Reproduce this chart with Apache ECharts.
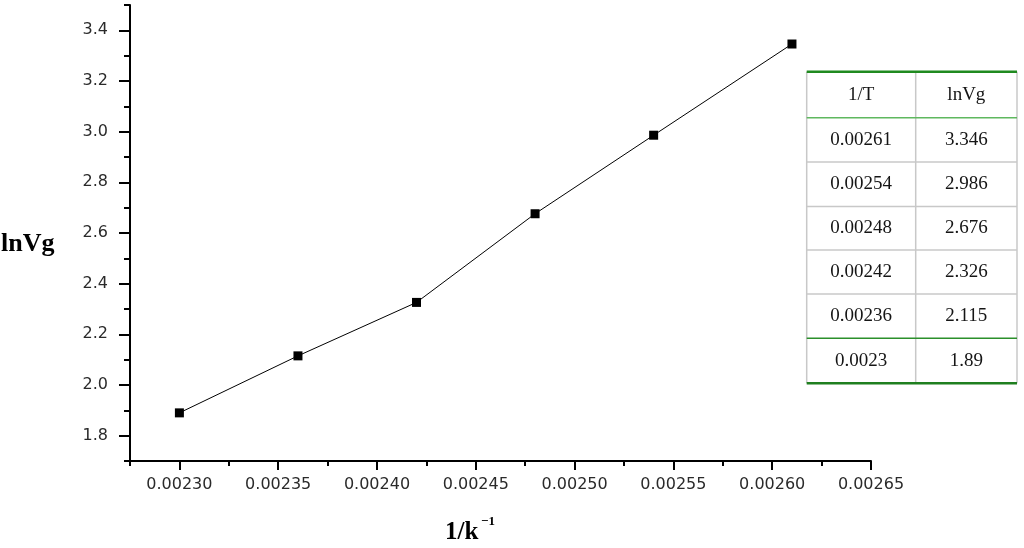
<!DOCTYPE html>
<html>
<head>
<meta charset="utf-8">
<script src="https://cdn.jsdelivr.net/npm/echarts@6/dist/echarts.min.js"></script>
<style>html,body{margin:0;padding:0;background:#fff}#c{width:1024px;height:548px}</style>
</head>
<body>
<div id="c"></div>
<script>
// ---- data ----
const xVals = [0.0023, 0.00236, 0.00242, 0.00248, 0.00254, 0.00261];
const yVals = [1.89, 2.115, 2.326, 2.676, 2.986, 3.346];
const tableHeaders = ['1/T', 'lnVg'];
const yAxisTitle = 'lnVg';
const xAxisTitle = '1/k';
const xAxisTitleSup = '\u22121';

// ---- layout ----
const G = {left: 130, right: 153, top: 5, bottom: 87}; // main plot box (x: 0.002275–0.00265, y: 1.7–3.5)
const yMin = 1.7, yMax = 3.5, xMin = 0.002275, xMax = 0.00265;
const plotH = 548 - G.top - G.bottom, plotW = 1024 - G.left - G.right;
const y18 = G.top + (yMax - 1.8) / (yMax - yMin) * plotH;
const y34 = G.top + (yMax - 3.4) / (yMax - yMin) * plotH;
const x230 = G.left + (0.0023 - xMin) / (xMax - xMin) * plotW;

const chart = echarts.init(document.getElementById('c'), null, {renderer: 'canvas'});

const labelFont = {color: '#2a2a2a', fontSize: 16, fontFamily: 'DejaVu Sans'};

// table graphic
const rowsY = [71.7, 117.7, 162, 206.5, 250, 294, 338.3, 383.3];
const colX = [806.7, 915.7, 1017];
const tableEls = [];
tableEls.push({type: 'rect', shape: {x: colX[0], y: rowsY[0], width: colX[2] - colX[0], height: rowsY[7] - rowsY[0]}, style: {fill: '#fff'}});
colX.forEach(x => tableEls.push({type: 'line', shape: {x1: x, y1: rowsY[0], x2: x, y2: rowsY[7]}, style: {stroke: '#c8c8c8', lineWidth: 1.5}}));
[2, 3, 4, 5].forEach(i => tableEls.push({type: 'line', shape: {x1: colX[0], y1: rowsY[i], x2: colX[2], y2: rowsY[i]}, style: {stroke: '#c8c8c8', lineWidth: 1.5}}));
const greens = [[0, '#1f8a1f', 2.5], [1, '#5fb85f', 1.5], [6, '#2b8f2b', 1.5], [7, '#1f7f1f', 2.5]];
greens.forEach(g => tableEls.push({type: 'line', shape: {x1: colX[0], y1: rowsY[g[0]], x2: colX[2], y2: rowsY[g[0]]}, style: {stroke: g[1], lineWidth: g[2]}}));
const cellFont = '19px "Liberation Serif"';
function cellText(txt, col, row) {
  return {type: 'text', x: (colX[col] + colX[col + 1]) / 2, y: (rowsY[row] + rowsY[row + 1]) / 2,
    style: {text: txt, font: cellFont, fill: '#151515', align: 'center', verticalAlign: 'middle'}};
}
tableEls.push(cellText(tableHeaders[0], 0, 0));
tableEls.push(cellText(tableHeaders[1], 1, 0));
const n = xVals.length;
for (let i = 0; i < n; i++) {
  const k = n - 1 - i;
  tableEls.push(cellText(String(xVals[k]), 0, i + 1));
  tableEls.push(cellText(String(yVals[k]), 1, i + 1));
}

const option = {
  animation: false,
  backgroundColor: '#fff',
  grid: [
    {left: G.left, right: G.right, top: G.top, bottom: G.bottom},
    {left: x230, right: G.right, top: y34, bottom: 548 - y18}
  ],
  xAxis: [
    {type: 'value', gridIndex: 0, min: xMin, max: xMax, interval: 0.000025,
      axisLine: {show: true, onZero: false, lineStyle: {color: '#000', width: 2}},
      axisTick: {show: true, inside: false, length: 5, lineStyle: {color: '#000', width: 2}},
      axisLabel: {show: false}, splitLine: {show: false}},
    {type: 'value', gridIndex: 1, min: 0.0023, max: xMax, interval: 0.00005, position: 'bottom',
      offset: (G.top + plotH) - y18,
      axisLine: {show: false, onZero: false},
      axisTick: {show: true, length: 9, lineStyle: {color: '#000', width: 2}},
      axisLabel: Object.assign({margin: 16, formatter: v => v.toFixed(5)}, labelFont),
      splitLine: {show: false}}
  ],
  yAxis: [
    {type: 'value', gridIndex: 0, min: yMin, max: yMax, interval: 0.1,
      axisLine: {show: true, onZero: false, lineStyle: {color: '#000', width: 2}},
      axisTick: {show: true, length: 6, lineStyle: {color: '#000', width: 2}},
      axisLabel: {show: false}, splitLine: {show: false}},
    {type: 'value', gridIndex: 1, min: 1.8, max: 3.4, interval: 0.2, position: 'left',
      offset: x230 - G.left,
      axisLine: {show: false, onZero: false},
      axisTick: {show: true, length: 11, lineStyle: {color: '#000', width: 2}},
      axisLabel: Object.assign({margin: 22, formatter: v => v.toFixed(1)}, labelFont),
      splitLine: {show: false}}
  ],
  series: [{
    type: 'line', xAxisIndex: 0, yAxisIndex: 0,
    data: xVals.map((x, i) => [x, yVals[i]]),
    symbol: 'rect', symbolSize: 9,
    lineStyle: {color: '#000', width: 1},
    itemStyle: {color: '#000'}
  }],
  graphic: [
    {type: 'text', left: 1, top: 231, style: {text: yAxisTitle, font: 'bold 26px "Liberation Serif"', fill: '#000'}},
    {type: 'text', left: 445, top: 520, style: {text: xAxisTitle, font: 'bold 25px "Liberation Serif"', fill: '#000'}},
    {type: 'text', left: 481, top: 515, style: {text: xAxisTitleSup, font: 'bold 13px "Liberation Serif"', fill: '#000'}},
    {type: 'group', children: tableEls}
  ]
};
chart.setOption(option);
</script>
</body>
</html>
